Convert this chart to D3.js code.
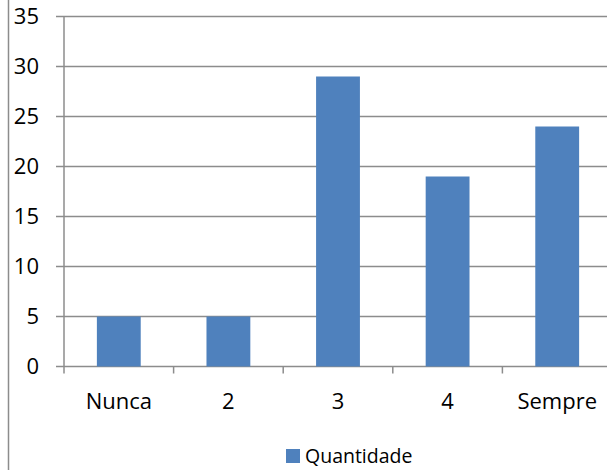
<!DOCTYPE html>
<html>
<head>
<meta charset="utf-8">
<script src="https://cdn.jsdelivr.net/npm/d3@7"></script>
<style>
  body { margin: 0; background: #fff; }
  svg text { font-family: "Open Sans", "Noto Sans", sans-serif; fill: #000; }
</style>
</head>
<body>
<svg id="chart"></svg>
<script>
// data
var categories = ["Nunca", "2", "3", "4", "Sempre"];
var values = [5, 5, 29, 19, 24];
var yTicks = [0, 5, 10, 15, 20, 25, 30, 35];
var seriesName = "Quantidade";

var width = 607, height = 470;

var svg = d3.select("#chart")
    .attr("width", width)
    .attr("height", height);

// left frame of the chart area
svg.append("line")
    .attr("x1", 8.5).attr("x2", 8.5)
    .attr("y1", 0).attr("y2", height)
    .attr("stroke", "#8c8c8c")
    .attr("stroke-width", 1.5);

var plotLeft = 64, plotRight = 612, plotTop = 16.5, plotBottom = 366.5;

var x = d3.scaleBand()
    .domain(categories)
    .range([plotLeft, plotRight])
    .paddingInner(0.6)
    .paddingOuter(0.3);

var xTickScale = d3.scaleLinear()
    .domain([0, categories.length])
    .range([plotLeft, plotRight]);

var y = d3.scaleLinear()
    .domain([0, 35])
    .range([plotBottom, plotTop]);

// gridlines
svg.append("g")
    .selectAll("line")
    .data(yTicks)
    .join("line")
    .attr("x1", plotLeft - 8)
    .attr("x2", width)
    .attr("y1", function(d) { return y(d); })
    .attr("y2", function(d) { return y(d); })
    .attr("stroke", "#8c8c8c")
    .attr("stroke-width", 1.5);

// y axis line
svg.append("line")
    .attr("x1", plotLeft).attr("x2", plotLeft)
    .attr("y1", plotTop).attr("y2", plotBottom + 7)
    .attr("stroke", "#8c8c8c")
    .attr("stroke-width", 1.5);

// x tick marks
svg.append("g")
    .selectAll("line")
    .data(d3.range(1, categories.length))
    .join("line")
    .attr("x1", function(d) { return xTickScale(d); })
    .attr("x2", function(d) { return xTickScale(d); })
    .attr("y1", plotBottom)
    .attr("y2", plotBottom + 7)
    .attr("stroke", "#8c8c8c")
    .attr("stroke-width", 1.5);

// y labels
svg.append("g")
    .selectAll("text")
    .data(yTicks)
    .join("text")
    .attr("x", 39)
    .attr("y", function(d) { return y(d); })
    .attr("dy", "0.36em")
    .attr("text-anchor", "end")
    .style("font-size", "22px")
    .text(function(d) { return d; });

// bars
svg.append("g")
    .selectAll("rect")
    .data(values)
    .join("rect")
    .attr("x", function(d, i) { return x(categories[i]); })
    .attr("width", x.bandwidth())
    .attr("y", function(d) { return y(d); })
    .attr("height", function(d) { return y(0) - y(d); })
    .attr("fill", "#4f81bd");

// x labels
svg.append("g")
    .selectAll("text")
    .data(categories)
    .join("text")
    .attr("x", function(d) { return x(d) + x.bandwidth() / 2; })
    .attr("y", 409)
    .attr("text-anchor", "middle")
    .style("font-size", "22px")
    .text(function(d) { return d; });

// legend
svg.append("rect")
    .attr("x", 286).attr("y", 449)
    .attr("width", 14).attr("height", 14)
    .attr("fill", "#4f81bd");

svg.append("text")
    .attr("x", 305)
    .attr("y", 463)
    .style("font-size", "19.5px")
    .text(seriesName);
</script>
</body>
</html>
